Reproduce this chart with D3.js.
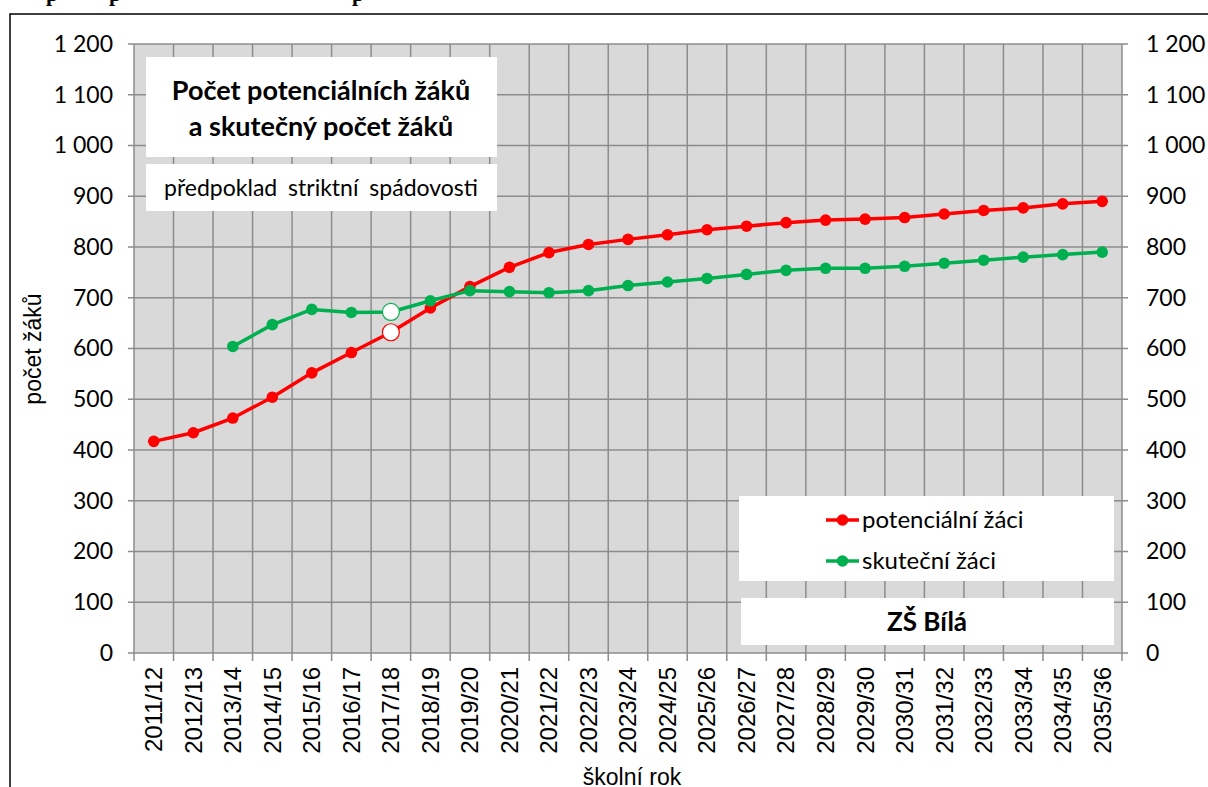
<!DOCTYPE html>
<html>
<head>
<meta charset="utf-8">
<script src="https://cdn.jsdelivr.net/npm/d3@7"></script>
<style>
    body { margin: 0; background: #ffffff; }
    svg { display: block; }
</style>
</head>
<body>
<div id="graph"></div>
<script>
var years = ['2011/12', '2012/13', '2013/14', '2014/15', '2015/16', '2016/17', '2017/18',
    '2018/19', '2019/20', '2020/21', '2021/22', '2022/23', '2023/24', '2024/25', '2025/26',
    '2026/27', '2027/28', '2028/29', '2029/30', '2030/31', '2031/32', '2032/33', '2033/34',
    '2034/35', '2035/36'];

var potencialni = [417, 434, 463, 504, 552, 592, 632, 680, 722, 760, 789, 805, 815, 824, 834,
    841, 848, 853, 855, 858, 865, 872, 877, 885, 890];

var skutecni = [null, null, 604, 647, 677, 671, 672, 694, 714, 712, 710, 714, 724, 731, 738,
    746, 754, 758, 758, 762, 768, 774, 780, 785, 790];

var yTicks = [0, 100, 200, 300, 400, 500, 600, 700, 800, 900, 1000, 1100, 1200];

// rok 2017/18 je zvyraznen prazdnym koleckem
var highlightYear = '2017/18';

var seriesNames = ['potenciální žáci', 'skuteční žáci'];
var seriesColors = ['#ff0000', '#00b050'];

var width = 1208;
var height = 787;
var plotLeft = 134;
var plotRight = 1122;
var plotTop = 44;
var plotBottom = 653;

var calibri = 'Lato, "Open Sans", sans-serif';
var arial = '"Liberation Sans", Arial, sans-serif';

var svg = d3
    .select('#graph')
    .append('svg')
    .attr('width', width)
    .attr('height', height);

// cut off heading above the frame
svg.append('g')
    .selectAll('text')
    .data([52, 115, 358])
    .enter()
    .append('text')
    .attr('x', function(d) { return d; })
    .attr('y', 1)
    .attr('text-anchor', 'middle')
    .style('font-family', '"Liberation Serif", serif')
    .style('font-weight', 'bold')
    .style('font-size', '22px')
    .text('p');

// frame
svg.append('path')
    .attr('d', 'M10,' + height + 'V14H' + width)
    .attr('fill', 'none')
    .attr('stroke', '#000')
    .attr('stroke-width', 1.5);

var xScale = d3.scaleBand().domain(years).range([plotLeft, plotRight]).padding(0);
var yScale = d3.scaleLinear().domain([0, 1200]).range([plotBottom, plotTop]);

var fmt = d3.formatLocale({ decimal: ',', thousands: ' ', grouping: [3], currency: ['', ''] }).format(',d');

svg.append('rect')
    .attr('x', plotLeft)
    .attr('y', plotTop)
    .attr('width', plotRight - plotLeft)
    .attr('height', plotBottom - plotTop)
    .attr('fill', '#d9d9d9');

var boundaries = years.map(function(d) { return xScale(d); }).concat([plotRight]);

// vertical grid + ticks under the axis
svg.append('g')
    .selectAll('line')
    .data(boundaries)
    .enter()
    .append('line')
    .attr('x1', function(d) { return d; })
    .attr('x2', function(d) { return d; })
    .attr('y1', plotTop)
    .attr('y2', plotBottom + 8)
    .attr('stroke', '#8c8c8c')
    .attr('stroke-width', 1.5);

// horizontal grid
svg.append('g')
    .selectAll('line')
    .data(yTicks)
    .enter()
    .append('line')
    .attr('x1', plotLeft - 6)
    .attr('x2', plotRight + 6)
    .attr('y1', function(d) { return yScale(d); })
    .attr('y2', function(d) { return yScale(d); })
    .attr('stroke', '#8c8c8c')
    .attr('stroke-width', 1.5);

var yAxisLeft = d3.axisLeft(yScale).tickValues(yTicks).tickFormat(fmt).tickSize(0).tickPadding(21);
var yAxisRight = d3.axisRight(yScale).tickValues(yTicks).tickFormat(fmt).tickSize(0).tickPadding(24);

svg.append('g')
    .attr('class', 'y axis')
    .attr('transform', 'translate(' + plotLeft + ',0)')
    .call(yAxisLeft);
svg.append('g')
    .attr('class', 'y axis')
    .attr('transform', 'translate(' + plotRight + ',0)')
    .call(yAxisRight);

svg.selectAll('.y.axis .domain').remove();
svg.selectAll('.y.axis text')
    .attr('fill', '#000')
    .style('font-family', calibri)
    .style('font-size', '23px');

var xAxis = d3.axisBottom(xScale).tickSize(0).tickPadding(0);
var xg = svg.append('g')
    .attr('class', 'x axis')
    .attr('transform', 'translate(0,' + plotBottom + ')')
    .call(xAxis);
xg.select('.domain').remove();
xg.selectAll('text')
    .attr('fill', '#000')
    .attr('transform', 'rotate(-90)')
    .attr('x', -14)
    .attr('y', 0)
    .attr('dy', '0.35em')
    .attr('text-anchor', 'end')
    .style('font-family', arial)
    .style('font-size', '24px');

// axis titles
svg.append('text')
    .attr('transform', 'translate(41,349) rotate(-90)')
    .attr('text-anchor', 'middle')
    .style('font-family', arial)
    .style('font-size', '23px')
    .text('počet žáků');

svg.append('text')
    .attr('x', 632)
    .attr('y', 785)
    .attr('text-anchor', 'middle')
    .style('font-family', arial)
    .style('font-size', '23px')
    .text('školní rok');

// text boxes
function whiteBox(x, y, w, h) {
    svg.append('rect')
        .attr('x', x)
        .attr('y', y)
        .attr('width', w)
        .attr('height', h)
        .attr('fill', '#fff');
}

whiteBox(146, 57, 351, 100);
whiteBox(146, 164, 351, 47);
whiteBox(739, 496, 375, 85);
whiteBox(741, 598, 373, 47);

svg.append('text')
    .attr('x', 321)
    .attr('y', 100)
    .attr('text-anchor', 'middle')
    .style('font-family', calibri)
    .style('font-weight', 'bold')
    .style('font-size', '27px')
    .text('Počet potenciálních žáků');
svg.append('text')
    .attr('x', 321)
    .attr('y', 136)
    .attr('text-anchor', 'middle')
    .style('font-family', calibri)
    .style('font-weight', 'bold')
    .style('font-size', '27px')
    .text('a skutečný počet žáků');
svg.append('text')
    .attr('x', 321)
    .attr('y', 196)
    .attr('text-anchor', 'middle')
    .style('font-family', calibri)
    .style('font-size', '23px')
    .style('word-spacing', '5px')
    .text('předpoklad striktní spádovosti');
svg.append('text')
    .attr('x', 927)
    .attr('y', 631)
    .attr('text-anchor', 'middle')
    .style('font-family', calibri)
    .style('font-weight', 'bold')
    .style('font-size', '26px')
    .text('ZŠ Bílá');

// lines
var line = d3.line()
    .defined(function(d) { return d.value != null; })
    .x(function(d) { return xScale(d.year) + xScale.bandwidth() / 2; })
    .y(function(d) { return yScale(d.value); });

var series = [potencialni, skutecni].map(function(values, i) {
    return {
        name: seriesNames[i],
        color: seriesColors[i],
        points: values.map(function(v, j) { return { year: years[j], value: v }; })
    };
});

series.forEach(function(s) {
    var g = svg.append('g');
    g.append('path')
        .datum(s.points)
        .attr('d', line)
        .attr('fill', 'none')
        .attr('stroke', s.color)
        .attr('stroke-width', 3.5)
        .attr('stroke-linejoin', 'round');
    g.selectAll('circle')
        .data(s.points.filter(function(d) { return d.value != null; }))
        .enter()
        .append('circle')
        .attr('cx', function(d) { return xScale(d.year) + xScale.bandwidth() / 2; })
        .attr('cy', function(d) { return yScale(d.value); })
        .attr('r', function(d) { return d.year == highlightYear ? 8.5 : 5.8; })
        .attr('fill', function(d) { return d.year == highlightYear ? '#fff' : s.color; })
        .attr('stroke', s.color)
        .attr('stroke-width', function(d) { return d.year == highlightYear ? 1.2 : 0; });
});

// legend
var legend = svg.append('g')
    .selectAll('g')
    .data(series)
    .enter()
    .append('g')
    .attr('transform', function(d, i) { return 'translate(826,' + (520 + i * 41) + ')'; });
legend.append('line')
    .attr('x1', 0)
    .attr('x2', 33)
    .attr('stroke', function(d) { return d.color; })
    .attr('stroke-width', 3.5);
legend.append('circle')
    .attr('cx', 16.5)
    .attr('r', 5.8)
    .attr('fill', function(d) { return d.color; });
legend.append('text')
    .attr('x', 36)
    .attr('dy', '0.35em')
    .style('font-family', calibri)
    .style('font-size', '24px')
    .text(function(d) { return d.name; });
</script>
</body>
</html>
